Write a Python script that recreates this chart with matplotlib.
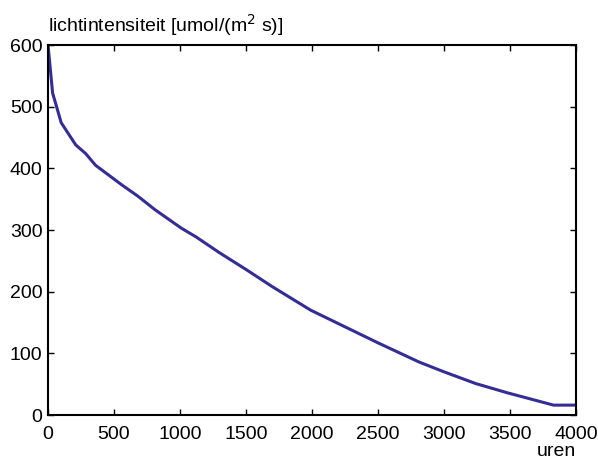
import matplotlib.pyplot as plt

# lichtintensiteit als functie van de tijd
uren = [0, 35, 100, 210, 285, 360, 560, 680, 810, 1010, 1120, 1300, 1500,
        1700, 1990, 2500, 2810, 3000, 3240, 3480, 3830, 4000]
licht = [600, 522, 474, 438, 424, 405, 373, 355, 333, 303, 289, 263, 236,
         208, 170, 117, 86, 70, 51, 36, 16, 16]

plt.rcParams['font.family'] = ['Liberation Sans', 'DejaVu Sans']
fs = 14

fig = plt.figure(figsize=(5.98, 4.66), dpi=100)
ax = fig.add_axes([48/598, 51/466, 528/598, 370/466])

ax.plot(uren, licht, color='#342d96', linewidth=2.2)

ax.set_xlim(0, 4000)
ax.set_ylim(0, 600)
ax.set_xticks(range(0, 4001, 500))
ax.set_yticks(range(0, 601, 100))
ax.tick_params(direction='in', length=4, width=1, labelsize=fs,
               top=True, right=True)
ax.tick_params(axis='x', pad=8)
ax.tick_params(axis='y', pad=4)
for s in ax.spines.values():
    s.set_linewidth(1.5)

# titel linksboven, eenheid rechtsonder
ax.text(0, 1.035, 'lichtintensiteit [umol/(m$^2$ s)]', transform=ax.transAxes,
        ha='left', va='baseline', fontsize=fs)
ax.text(1.0, -0.111, 'uren', transform=ax.transAxes,
        ha='right', va='baseline', fontsize=fs)

fig.savefig('out.png', dpi=100)
